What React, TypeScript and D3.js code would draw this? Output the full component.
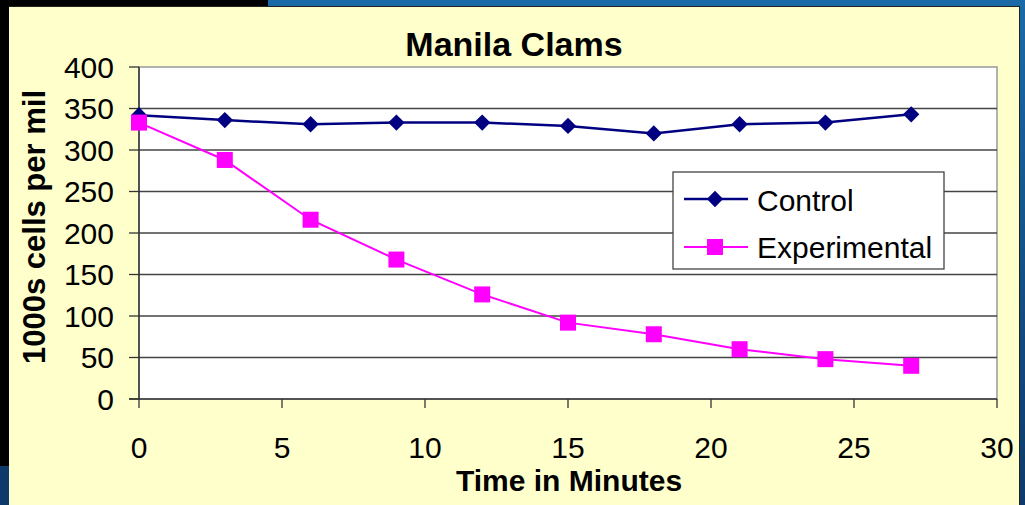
import React from "react";
import * as d3 from "d3";

const times = [0, 3, 6, 9, 12, 15, 18, 21, 24, 27];
const controlValues = [342, 336, 331, 333, 333, 329, 320, 331, 333, 343];
const experimentalValues = [333, 288, 216, 168, 126, 92, 78, 60, 48, 40];
const xTicks = [0, 5, 10, 15, 20, 25, 30];
const yTicks = [0, 50, 100, 150, 200, 250, 300, 350, 400];
const seriesNames = ["Control", "Experimental"];

const W = 1025;
const H = 505;
const FONT = "'Liberation Sans', Arial, sans-serif";

export default function App() {
  const x = d3.scaleLinear().domain([0, 30]).range([139, 997]);
  const y = d3.scaleLinear().domain([0, 400]).range([399, 67]);

  const lineGen = d3
    .line<number>()
    .x((_, i) => x(times[i]))
    .y((d) => y(d));

  const diamond = d3.symbol().type(d3.symbolDiamond2).size(170)() as string;

  return (
    <svg
      width={W}
      height={H}
      style={{ position: "absolute", left: 0, top: 0, display: "block" }}
    >
      <defs>
        <linearGradient id="bgGrad" x1="0" y1="0" x2="0" y2="1">
          <stop offset="0" stopColor="#1a6aa8" />
          <stop offset="1" stopColor="#0d3a6b" />
        </linearGradient>
      </defs>
      {/* background */}
      <rect x={0} y={0} width={W} height={H} fill="url(#bgGrad)" />
      <rect x={0} y={0} width={268} height={6} fill="#000" />
      <rect x={0} y={0} width={9} height={466} fill="#000" />
      <rect x={0} y={466} width={9} height={39} fill="#0d3a6b" />
      {/* panel */}
      <rect x={9} y={6} width={1010} height={H - 6} fill="#ffffcc" />
      <line x1={9} x2={1019.5} y1={6.5} y2={6.5} stroke="#222" strokeWidth={1} />
      <line x1={1019.5} x2={1019.5} y1={6} y2={H} stroke="#222" strokeWidth={1} />

      {/* plot area */}
      <rect x={139} y={67} width={997 - 139} height={399 - 67} fill="#fff" stroke="#999" strokeWidth={1.5} />
      {yTicks.slice(1, -1).map((t) => (
        <line key={"g" + t} x1={139} x2={997} y1={y(t)} y2={y(t)} stroke="#444" strokeWidth={1.3} />
      ))}

      {/* axes */}
      <line x1={139} x2={139} y1={67} y2={399} stroke="#333" strokeWidth={1.5} />
      <line x1={129} x2={997} y1={399} y2={399} stroke="#333" strokeWidth={1.5} />
      {yTicks.map((t) => (
        <g key={"yt" + t}>
          <line x1={129} x2={139} y1={y(t)} y2={y(t)} stroke="#333" strokeWidth={1.3} />
          <text
            x={114}
            y={y(t)}
            textAnchor="end"
            dominantBaseline="central"
            fontFamily={FONT}
            fontSize={30}
            fill="#000"
          >
            {t}
          </text>
        </g>
      ))}
      {xTicks.map((t) => (
        <g key={"xt" + t}>
          <line x1={x(t)} x2={x(t)} y1={399} y2={408} stroke="#333" strokeWidth={1.3} />
          <text x={x(t)} y={458} textAnchor="middle" fontFamily={FONT} fontSize={30} fill="#000">
            {t}
          </text>
        </g>
      ))}

      {/* series */}
      <path d={lineGen(controlValues) || ""} fill="none" stroke="#000080" strokeWidth={2.5} />
      <path d={lineGen(experimentalValues) || ""} fill="none" stroke="#ff00ff" strokeWidth={2} />
      {controlValues.map((v, i) => (
        <path key={"c" + i} d={diamond} transform={`translate(${x(times[i])},${y(v)})`} fill="#000080" />
      ))}
      {experimentalValues.map((v, i) => (
        <rect key={"e" + i} x={x(times[i]) - 8} y={y(v) - 8} width={16} height={16} fill="#ff00ff" />
      ))}

      {/* titles */}
      <text x={514} y={56} textAnchor="middle" fontFamily={FONT} fontSize={34} fontWeight="bold" fill="#000">
        Manila Clams
      </text>
      <text x={569} y={491} textAnchor="middle" fontFamily={FONT} fontSize={30} fontWeight="bold" fill="#000">
        Time in Minutes
      </text>
      <text
        transform="translate(45,227) rotate(-90)"
        textAnchor="middle"
        fontFamily={FONT}
        fontSize={31}
        fontWeight="bold"
        fill="#000"
      >
        1000s cells per mil
      </text>

      {/* legend */}
      <rect x={673} y={172} width={271} height={97} fill="#fff" stroke="#444" strokeWidth={1.3} />
      <line x1={684} x2={748} y1={199} y2={199} stroke="#000080" strokeWidth={2.5} />
      <path d={diamond} transform="translate(715,199)" fill="#000080" />
      <text x={757} y={211} fontFamily={FONT} fontSize={30} fill="#000">
        {seriesNames[0]}
      </text>
      <line x1={684} x2={748} y1={247} y2={247} stroke="#ff00ff" strokeWidth={2} />
      <rect x={707} y={239} width={16} height={16} fill="#ff00ff" />
      <text x={757} y={258} fontFamily={FONT} fontSize={30} fill="#000">
        {seriesNames[1]}
      </text>
    </svg>
  );
}
